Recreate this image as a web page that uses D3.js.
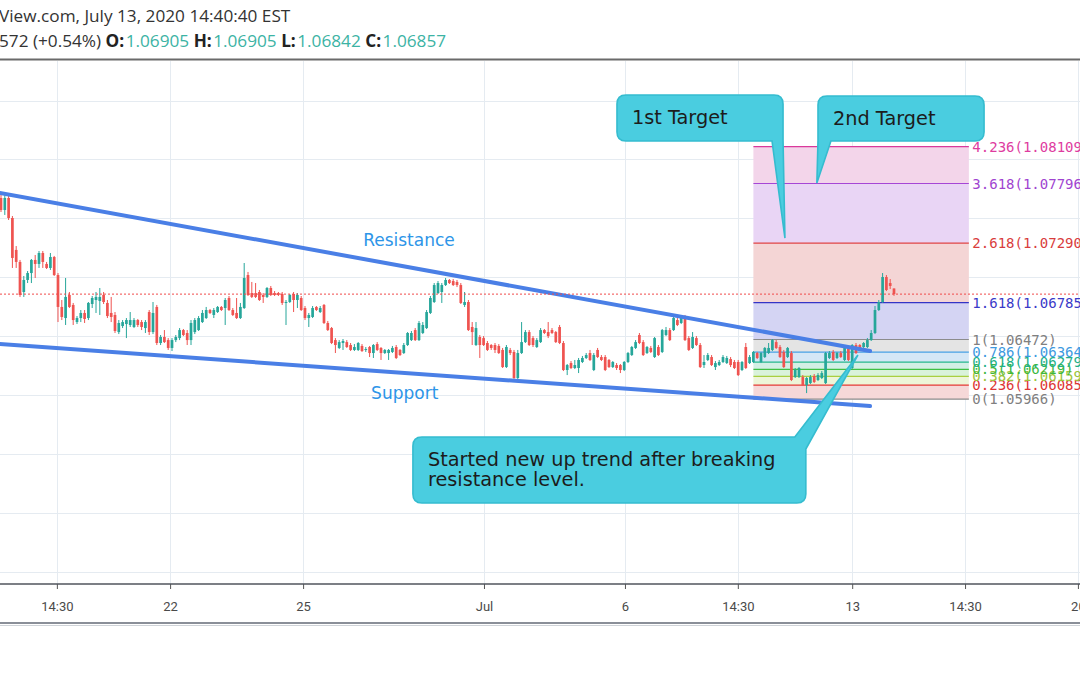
<!DOCTYPE html>
<html><head><meta charset="utf-8">
<script src="https://cdn.jsdelivr.net/npm/d3@7"></script>
<style>html,body{margin:0;padding:0;background:#fff;overflow:hidden}</style>
</head><body>
<svg id="c" width="1080" height="675" xmlns="http://www.w3.org/2000/svg"></svg>
<script>
// ---------- DATA ----------
const opens=[1.07673,1.07571,1.07673,1.07503,1.07232,1.07130,1.06875,1.06977,1.07036,1.07147,
1.07113,1.07206,1.07113,1.07079,1.07172,1.07019,1.06748,1.06654,1.06850,1.06765,
1.06620,1.06654,1.06697,1.06654,1.06773,1.06807,1.06799,1.06850,1.06782,1.06697,
1.06680,1.06535,1.06586,1.06603,1.06595,1.06578,1.06637,1.06620,1.06569,1.06705,
1.06535,1.06748,1.06442,1.06493,1.06467,1.06400,1.06467,1.06484,1.06552,1.06527,
1.06467,1.06535,1.06552,1.06620,1.06654,1.06722,1.06680,1.06705,1.06748,1.06739,
1.06824,1.06722,1.06697,1.06654,1.06739,1.07019,1.06866,1.06866,1.06875,1.06850,
1.06833,1.06909,1.06866,1.06866,1.06858,1.06782,1.06790,1.06858,1.06807,1.06824,
1.06739,1.06654,1.06663,1.06748,1.06705,1.06765,1.06612,1.06569,1.06467,1.06400,
1.06442,1.06450,1.06425,1.06383,1.06383,1.06417,1.06383,1.06408,1.06357,1.06433,
1.06400,1.06357,1.06357,1.06366,1.06408,1.06383,1.06357,1.06425,1.06467,1.06552,
1.06467,1.06527,1.06569,1.06697,1.06790,1.06866,1.06875,1.06934,1.06977,1.06968,
1.06960,1.06934,1.06765,1.06790,1.06578,1.06425,1.06493,1.06484,1.06442,1.06425,
1.06425,1.06417,1.06383,1.06238,1.06383,1.06366,1.06145,1.06357,1.06450,1.06535,
1.06484,1.06408,1.06450,1.06552,1.06535,1.06552,1.06535,1.06578,1.06442,1.06213,
1.06272,1.06230,1.06230,1.06281,1.06315,1.06357,1.06213,1.06383,1.06323,1.06323,
1.06298,1.06238,1.06255,1.06255,1.06213,1.06281,1.06340,1.06400,1.06510,1.06450,
1.06357,1.06400,1.06323,1.06408,1.06366,1.06510,1.06552,1.06552,1.06637,1.06612,
1.06663,1.06484,1.06400,1.06484,1.06425,1.06255,1.06298,1.06323,1.06238,1.06255,
1.06281,1.06272,1.06306,1.06281,1.06281,1.06213,1.06408,1.06272,1.06281,1.06357,
1.06281,1.06323,1.06357,1.06383,1.06450,1.06408,1.06366,1.06323,1.06357,1.06153,
1.06153,1.06153,1.06085,1.06102,1.06162,1.06128,1.06145,1.06102,1.06315,1.06366,
1.06315,1.06357,1.06298,1.06400,1.06230,1.06425,1.06425,1.06408,1.06408,1.06467,
1.06527,1.06722,1.06790,1.07002,1.06951,1.06905];
const highs=[1.07707,1.07698,1.07690,1.07520,1.07265,1.07147,1.07011,1.07053,1.07155,1.07189,
1.07223,1.07223,1.07130,1.07206,1.07181,1.07036,1.06807,1.06994,1.06875,1.06782,
1.06671,1.06722,1.06722,1.06790,1.06841,1.06875,1.06909,1.06875,1.06807,1.06833,
1.06705,1.06637,1.06637,1.06654,1.06705,1.06654,1.06646,1.06637,1.06637,1.06722,
1.06790,1.06765,1.06510,1.06552,1.06484,1.06484,1.06510,1.06569,1.06561,1.06552,
1.06637,1.06654,1.06671,1.06722,1.06748,1.06731,1.06739,1.06756,1.06756,1.06824,
1.06841,1.06739,1.06824,1.06782,1.07121,1.07045,1.06960,1.06951,1.06892,1.06866,
1.06917,1.06926,1.06883,1.06875,1.06875,1.06807,1.06858,1.06875,1.06866,1.06841,
1.06756,1.06697,1.06756,1.06756,1.06756,1.06773,1.06629,1.06578,1.06484,1.06467,
1.06476,1.06467,1.06442,1.06433,1.06450,1.06433,1.06408,1.06417,1.06433,1.06450,
1.06408,1.06391,1.06391,1.06417,1.06425,1.06391,1.06442,1.06535,1.06544,1.06569,
1.06629,1.06620,1.06722,1.06841,1.06951,1.06968,1.06951,1.06994,1.06985,1.06985,
1.06977,1.06951,1.06875,1.06807,1.06620,1.06620,1.06510,1.06501,1.06459,1.06433,
1.06442,1.06433,1.06400,1.06425,1.06400,1.06383,1.06383,1.06620,1.06552,1.06552,
1.06501,1.06484,1.06569,1.06561,1.06620,1.06569,1.06544,1.06595,1.06459,1.06264,
1.06289,1.06298,1.06315,1.06332,1.06357,1.06383,1.06357,1.06400,1.06340,1.06340,
1.06306,1.06289,1.06272,1.06264,1.06289,1.06366,1.06417,1.06467,1.06527,1.06467,
1.06417,1.06417,1.06493,1.06425,1.06561,1.06578,1.06569,1.06663,1.06654,1.06663,
1.06680,1.06501,1.06535,1.06501,1.06442,1.06340,1.06357,1.06340,1.06289,1.06298,
1.06340,1.06332,1.06323,1.06298,1.06298,1.06289,1.06442,1.06340,1.06374,1.06366,
1.06366,1.06408,1.06442,1.06476,1.06467,1.06425,1.06383,1.06408,1.06374,1.06230,
1.06238,1.06170,1.06153,1.06170,1.06179,1.06187,1.06204,1.06366,1.06374,1.06383,
1.06366,1.06374,1.06408,1.06417,1.06433,1.06442,1.06433,1.06450,1.06484,1.06552,
1.06756,1.06807,1.07036,1.07019,1.06985,1.06905];
const lows=[1.07554,1.07529,1.07486,1.07079,1.07079,1.06833,1.06833,1.06951,1.06951,1.06994,
1.07079,1.07079,1.07070,1.07062,1.07011,1.06620,1.06637,1.06595,1.06739,1.06595,
1.06603,1.06620,1.06612,1.06637,1.06739,1.06697,1.06680,1.06773,1.06654,1.06620,
1.06527,1.06518,1.06569,1.06484,1.06578,1.06569,1.06578,1.06552,1.06527,1.06510,
1.06518,1.06425,1.06425,1.06442,1.06383,1.06374,1.06450,1.06467,1.06501,1.06425,
1.06425,1.06518,1.06544,1.06612,1.06646,1.06688,1.06654,1.06697,1.06714,1.06595,
1.06714,1.06671,1.06646,1.06646,1.06731,1.06841,1.06824,1.06824,1.06799,1.06782,
1.06824,1.06841,1.06841,1.06841,1.06765,1.06595,1.06782,1.06705,1.06739,1.06714,
1.06637,1.06578,1.06654,1.06714,1.06697,1.06603,1.06544,1.06433,1.06357,1.06391,
1.06383,1.06400,1.06374,1.06374,1.06374,1.06366,1.06366,1.06323,1.06315,1.06374,
1.06298,1.06349,1.06298,1.06357,1.06306,1.06332,1.06349,1.06417,1.06459,1.06459,
1.06459,1.06518,1.06561,1.06688,1.06782,1.06858,1.06782,1.06926,1.06943,1.06926,
1.06917,1.06773,1.06748,1.06544,1.06425,1.06417,1.06315,1.06417,1.06374,1.06383,
1.06357,1.06349,1.06230,1.06230,1.06340,1.06128,1.06128,1.06349,1.06442,1.06417,
1.06408,1.06400,1.06442,1.06518,1.06484,1.06518,1.06442,1.06433,1.06204,1.06170,
1.06221,1.06221,1.06187,1.06272,1.06306,1.06289,1.06204,1.06315,1.06289,1.06204,
1.06230,1.06230,1.06213,1.06187,1.06204,1.06272,1.06332,1.06391,1.06433,1.06332,
1.06349,1.06357,1.06315,1.06332,1.06357,1.06501,1.06459,1.06544,1.06586,1.06603,
1.06459,1.06374,1.06391,1.06417,1.06230,1.06230,1.06289,1.06247,1.06213,1.06247,
1.06272,1.06264,1.06238,1.06221,1.06162,1.06204,1.06221,1.06264,1.06272,1.06306,
1.06272,1.06315,1.06349,1.06374,1.06391,1.06315,1.06230,1.06315,1.06119,1.06145,
1.06145,1.06077,1.06017,1.06094,1.06102,1.06119,1.06136,1.06094,1.06306,1.06289,
1.06306,1.06315,1.06289,1.06289,1.06221,1.06349,1.06374,1.06400,1.06400,1.06459,
1.06518,1.06714,1.06782,1.06883,1.06900,1.06842];
const closes=[1.07571,1.07673,1.07503,1.07164,1.07130,1.06850,1.06977,1.07036,1.07147,1.07113,
1.07206,1.07130,1.07079,1.07172,1.07019,1.06748,1.06663,1.06833,1.06748,1.06637,
1.06654,1.06697,1.06646,1.06782,1.06824,1.06833,1.06833,1.06790,1.06671,1.06663,
1.06544,1.06612,1.06620,1.06637,1.06637,1.06637,1.06595,1.06578,1.06620,1.06535,
1.06697,1.06442,1.06493,1.06450,1.06400,1.06467,1.06493,1.06552,1.06510,1.06467,
1.06612,1.06637,1.06654,1.06697,1.06722,1.06697,1.06722,1.06748,1.06722,1.06807,
1.06722,1.06680,1.06654,1.06748,1.06994,1.06850,1.06833,1.06833,1.06807,1.06833,
1.06909,1.06850,1.06850,1.06850,1.06782,1.06790,1.06850,1.06807,1.06850,1.06722,
1.06654,1.06680,1.06739,1.06722,1.06739,1.06612,1.06552,1.06442,1.06425,1.06450,
1.06459,1.06408,1.06383,1.06408,1.06442,1.06374,1.06391,1.06357,1.06425,1.06383,
1.06357,1.06383,1.06383,1.06400,1.06315,1.06340,1.06425,1.06527,1.06527,1.06467,
1.06612,1.06595,1.06705,1.06824,1.06934,1.06951,1.06934,1.06977,1.06951,1.06934,
1.06934,1.06782,1.06790,1.06552,1.06535,1.06569,1.06425,1.06425,1.06383,1.06400,
1.06383,1.06357,1.06238,1.06408,1.06357,1.06145,1.06357,1.06450,1.06535,1.06425,
1.06425,1.06467,1.06552,1.06527,1.06501,1.06527,1.06450,1.06442,1.06213,1.06255,
1.06230,1.06255,1.06298,1.06315,1.06340,1.06298,1.06340,1.06323,1.06298,1.06213,
1.06238,1.06281,1.06230,1.06213,1.06281,1.06357,1.06408,1.06450,1.06442,1.06340,
1.06408,1.06366,1.06484,1.06340,1.06552,1.06552,1.06467,1.06654,1.06595,1.06654,
1.06467,1.06383,1.06493,1.06425,1.06238,1.06281,1.06340,1.06255,1.06272,1.06281,
1.06323,1.06315,1.06255,1.06230,1.06170,1.06281,1.06230,1.06323,1.06366,1.06315,
1.06357,1.06400,1.06400,1.06467,1.06400,1.06323,1.06238,1.06400,1.06128,1.06213,
1.06230,1.06085,1.06145,1.06153,1.06111,1.06170,1.06187,1.06357,1.06357,1.06298,
1.06357,1.06323,1.06400,1.06298,1.06425,1.06357,1.06383,1.06442,1.06467,1.06527,
1.06722,1.06790,1.07002,1.06892,1.06926,1.06857];

const tickIndex=[14.7,44.5,79.5,127.1,164.2,193.9,224,253.7,283.4];
const tickLabels=["14:30","22","25","Jul","6","14:30","13","14:30","20"];
const gridPrices=[1.045,1.050,1.055,1.060,1.065,1.070,1.075,1.080,1.085];

const fibRatios=["0","0.236","0.382","0.5","0.618","0.786","1","1.618","2.618","3.618","4.236"];
const fibPrices=[1.05966,1.06085,1.06159,1.06219,1.06279,1.06364,1.06472,1.06785,1.07290,1.07796,1.08109];
const fibRange=[198,254.7];

const resistanceLine=[[-0.3,1.07716],[228.7,1.06374]];
const supportLine=[[-0.3,1.06433],[228.7,1.05907]];
const changeText="572 (+0.54%)";
const headerTitle="View.com, July 13, 2020 14:40:40 EST";

const callouts=[
 {lines:["1st Target"], box:[162.1,1.08547,205.8,1.08157], corner:"br", base:202.9, baseY:null, tip:[206.3,1.07333]},
 {lines:["2nd Target"], box:[215.0,1.08539,258.7,1.08157], corner:"bl", base:218.4, baseY:null, tip:[214.7,1.07800]},
 {lines:["Started new up trend after breaking","resistance level."], box:[108.4,1.05644,211.8,1.05084], corner:"tr", base:208.9, baseY:1.05542, tip:[225.5,1.06340]}
];
const lineLabels=[{text:"Resistance",at:[95.3,1.07265]},{text:"Support",at:[97.4,1.05966]}];

// ---------- STYLE ----------
const fibLineColors=["#8c8c8c","#e53935","#a9cf3f","#3fbf43","#25b88c","#45a0e6","#8c8c8c","#3434c6","#e04545","#a646d6","#d9399b"];
const fibTextColors=["#808080","#dd3434","#9cc43a","#3cb83f","#22b088","#3d99e0","#808080","#3a3ac8","#d93d3d","#a044d0","#de3c9f"];
const fibBandColors=[null,"#f6d8d8","#edf5d8","#d9f2da","#d3efe5","#d4e7f6","#e4e4e4","#d4d4f3","#f4d5d5","#e9d5f5","#f3d5ea"];
const upCol="#26a69a", downCol="#ef5350";

const svg=d3.select("#c");
const x=d3.scaleLinear().domain([0,284]).range([1,1080.2]);
const y=d3.scaleLinear().domain([1.05966,1.08109]).range([399.1,146.6]);
const plotTop=61, plotBottom=584, W=1080;

svg.append("rect").attr("width",W).attr("height",675).attr("fill","#fff");
svg.append("defs").append("clipPath").attr("id","plot").append("rect")
  .attr("x",0).attr("y",plotTop).attr("width",W).attr("height",plotBottom-plotTop);

// header
const hdr=svg.append("g").attr("font-family","'Open Sans', sans-serif").attr("font-size",17.2).attr("fill","#333");
hdr.append("text").attr("x",-1).attr("y",22).text(headerTitle);
const n=closes.length-1;
const l2=hdr.append("text").attr("x",-1).attr("y",46.5);
l2.append("tspan").text(changeText+" ");
[["O:",opens[n]],["H:",highs[n]],["L:",lows[n]],["C:",closes[n]]].forEach((p,k)=>{
  l2.append("tspan").attr("font-weight","bold").attr("fill","#222").text((k?" ":"")+p[0]);
  l2.append("tspan").attr("fill","#3cb3a4").attr("dx",1.5).text(p[1].toFixed(5));
});
svg.append("line").attr("x1",0).attr("x2",W).attr("y1",59.5).attr("y2",59.5).attr("stroke","#6a6a6a").attr("stroke-width",2);

const plot=svg.append("g").attr("clip-path","url(#plot)");
plot.selectAll("line.hg").data(gridPrices).join("line").attr("class","hg")
  .attr("x1",0).attr("x2",W).attr("y1",d=>Math.round(y(d))+0.5).attr("y2",d=>Math.round(y(d))+0.5)
  .attr("stroke","#e5ebf1");
plot.selectAll("line.vg").data(tickIndex).join("line").attr("class","vg")
  .attr("x1",d=>Math.round(x(d))+0.5).attr("x2",d=>Math.round(x(d))+0.5).attr("y1",plotTop).attr("y2",plotBottom)
  .attr("stroke","#e5ebf1");

const fx0=x(fibRange[0]), fx1=x(fibRange[1]);
const fib=plot.append("g");
fibPrices.forEach((p,k)=>{
  if(k>0) fib.append("rect").attr("x",fx0).attr("width",fx1-fx0)
     .attr("y",y(p)).attr("height",y(fibPrices[k-1])-y(p)).attr("fill",fibBandColors[k]);
});
fibPrices.forEach((p,k)=>{
  fib.append("line").attr("x1",fx0).attr("x2",fx1).attr("y1",y(p)).attr("y2",y(p))
     .attr("stroke",fibLineColors[k]).attr("stroke-width",1.2);
});

const data=closes.map((c,i)=>({i,o:opens[i],h:highs[i],l:lows[i],c}));
const cg=plot.append("g");
cg.selectAll("line").data(data).join("line")
  .attr("x1",d=>x(d.i)).attr("x2",d=>x(d.i)).attr("y1",d=>y(d.h)).attr("y2",d=>y(d.l))
  .attr("stroke",d=>d.c>=d.o?upCol:downCol).attr("stroke-width",1);
cg.selectAll("rect").data(data).join("rect")
  .attr("x",d=>x(d.i)-1.35).attr("width",2.7)
  .attr("y",d=>y(Math.max(d.o,d.c))).attr("height",d=>Math.max(1,Math.abs(y(d.o)-y(d.c))))
  .attr("fill",d=>d.c>=d.o?upCol:downCol);

const ln=d3.line().x(d=>x(d[0])).y(d=>y(d[1]));
[resistanceLine,supportLine].forEach(L=>{
  plot.append("path").attr("d",ln(L)).attr("stroke","#4a7fe6").attr("stroke-width",4)
    .attr("fill","none").attr("stroke-linecap","round");
});
plot.append("line").attr("x1",0).attr("x2",W).attr("y1",y(closes[n])).attr("y2",y(closes[n]))
  .attr("stroke","#f04a4a").attr("stroke-width",1).attr("stroke-dasharray","2,2");

lineLabels.forEach(t=>{
  plot.append("text").attr("x",x(t.at[0])).attr("y",y(t.at[1])).attr("fill","#2d95e8")
    .attr("font-family","'DejaVu Sans', Verdana, sans-serif").attr("font-size",17).text(t.text);
});

function calloutPath(c){
  const X0=x(c.box[0]),Y0=y(c.box[1]),X1=x(c.box[2]),Y1=y(c.box[3]),r=9;
  const tx=x(c.tip[0]),ty=y(c.tip[1]),b=x(c.base);
  if(c.corner==="br")
    return `M${X0+r},${Y0}H${X1-r}Q${X1},${Y0} ${X1},${Y0+r}V${Y1-1}L${tx},${ty}L${b},${Y1}H${X0+r}Q${X0},${Y1} ${X0},${Y1-r}V${Y0+r}Q${X0},${Y0} ${X0+r},${Y0}Z`;
  if(c.corner==="bl")
    return `M${X0+r},${Y0}H${X1-r}Q${X1},${Y0} ${X1},${Y0+r}V${Y1-r}Q${X1},${Y1} ${X1-r},${Y1}H${b}L${tx},${ty}L${X0},${Y1-1}V${Y0+r}Q${X0},${Y0} ${X0+r},${Y0}Z`;
  const by=y(c.baseY);
  return `M${X0+r},${Y0}H${b}L${tx},${ty}L${X1},${by}V${Y1-r}Q${X1},${Y1} ${X1-r},${Y1}H${X0+r}Q${X0},${Y1} ${X0},${Y1-r}V${Y0+r}Q${X0},${Y0} ${X0+r},${Y0}Z`;
}
const co=svg.append("g");
callouts.forEach(c=>{
  co.append("path").attr("d",calloutPath(c)).attr("fill","#4acde0").attr("stroke","#35bccf").attr("stroke-width",1.6);
  const X0=x(c.box[0]),Y0=y(c.box[1]);
  c.lines.forEach((t,k)=>{
    co.append("text").attr("x",X0+15).attr("y",Y0+29+k*19.5).attr("fill","#1c1c1c")
      .attr("font-family","'DejaVu Sans', Verdana, sans-serif").attr("font-size",19.3).text(t);
  });
});

fibPrices.forEach((p,k)=>{
  svg.append("text").attr("x",fx1+3.5).attr("y",y(p)).attr("dy","0.36em")
    .attr("font-family","'DejaVu Sans Mono', monospace").attr("font-size",14)
    .attr("fill",fibTextColors[k]).text(fibRatios[k]+"("+p.toFixed(5)+")");
});

const ax=svg.append("g").attr("transform",`translate(0,${plotBottom})`)
  .call(d3.axisBottom(x).tickValues(tickIndex).tickFormat((d,i)=>tickLabels[i]).tickSize(5).tickPadding(13));
ax.select(".domain").remove();
ax.selectAll(".tick line").attr("stroke","#555");
ax.selectAll(".tick text").attr("fill","#4a4a4a").attr("font-family","Roboto, sans-serif").attr("font-size",13);
svg.append("line").attr("x1",0).attr("x2",W).attr("y1",plotBottom).attr("y2",plotBottom).attr("stroke","#50545c").attr("stroke-width",1.5);
svg.append("line").attr("x1",0).attr("x2",W).attr("y1",623).attr("y2",623).attr("stroke","#8a8f98").attr("stroke-width",2);
svg.append("line").attr("x1",0).attr("x2",W).attr("y1",625.5).attr("y2",625.5).attr("stroke","#cfd3d8").attr("stroke-width",1);
</script>
</body></html>
